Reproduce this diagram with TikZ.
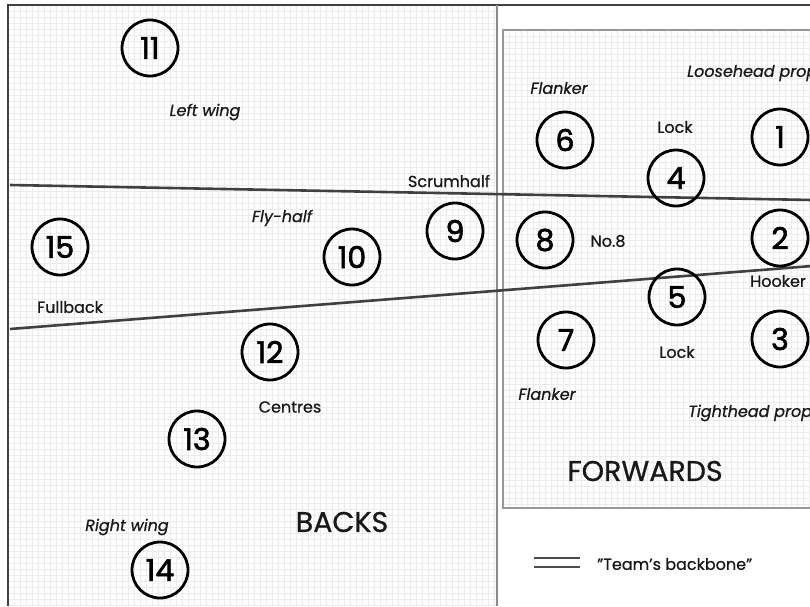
\documentclass[tikz,border=0pt]{standalone}
\usepackage{fontspec}
\setmainfont{Poppins}[FakeBold=0.8]
\newfontfamily\numfont{Poppins}[FakeBold=2]
\begin{document}
\begin{tikzpicture}[x=1pt,y=-1pt,
  player/.style={circle, draw=black, line width=2.8pt, minimum size=56pt, inner sep=0pt, font=\numfont\fontsize{30}{30}\selectfont},
  lbl/.style={font=\fontsize{16}{16}\selectfont, text=black!90, inner sep=0pt},
  ilbl/.style={lbl, font=\fontsize{16}{16}\selectfont\itshape},
  big/.style={font=\fontsize{28.5}{28.5}\selectfont, text=black!90, inner sep=0pt},
  backbone/.style={draw=black!75, line width=2.6pt},
  gridline/.style={draw=black!8, line width=0.35pt},
  frame/.style={draw=black!75, line width=1.6pt}]
\useasboundingbox (0,0) rectangle (810,606);
\begin{scope}
\clip (0,0) rectangle (810,606);
\fill[white] (0,0) rectangle (810,606);
% grid of the backs panel
\foreach \x in {8,14,...,497} \draw[gridline] (\x,5) -- (\x,606);
\foreach \y in {5,11,...,606} \draw[gridline] (8,\y) -- (497,\y);
% forwards box
\foreach \x in {503,509,...,810} \draw[gridline] (\x,30) -- (\x,508);
\foreach \y in {30,36,...,508} \draw[gridline] (503,\y) -- (810,\y);
\draw[draw=black!40, line width=1.8pt] (503,30) rectangle (830,508);
% frame
\draw[frame] (8,606) -- (8,5) -- (810,5);
\draw[draw=black!45, line width=1.6pt] (497,5) -- (497,606);

% backbone
\coordinate (bbA1) at (10,185);
\coordinate (bbA2) at (812,200);
\coordinate (bbB1) at (10,329);
\coordinate (bbB2) at (812,266);
\draw[backbone] (bbA1) -- (bbA2);
\draw[backbone] (bbB1) -- (bbB2);

% backs
\node[player] (p11) at (150,48) {11};
\node[player] (p15) at (60,247) {15};
\node[player] (p10) at (352,257) {10};
\node[player] (p9) at (455,231) {9};
\node[player] (p12) at (270,352) {12};
\node[player] (p13) at (197,439) {13};
\node[player] (p14) at (160,570) {14};
% forwards
\node[player] (p6) at (565,140) {6};
\node[player] (p4) at (676,178) {4};
\node[player] (p1) at (780,137) {1};
\node[player] (p8) at (545,240) {8};
\node[player] (p2) at (780,238) {2};
\node[player] (p5) at (677,297) {5};
\node[player] (p7) at (566,340) {7};
\node[player] (p3) at (780,339) {3};

% labels backs
\node[ilbl] (lLW) at (205,112) {Left wing};
\node[lbl] (lFB) at (70,307) {Fullback};
\node[ilbl] (lFH) at (282,218) {Fly-half};
\node[lbl] (lSH) at (449,181) {Scrumhalf};
\node[lbl] (lCE) at (290,407) {Centres};
\node[ilbl] (lRW) at (127,527) {Right wing};
\node[big] (lBK) at (342,522) {BACKS};
% labels forwards
\node[ilbl] (lFL1) at (559,88) {Flanker};
\node[ilbl] (lFL2) at (547,394) {Flanker};
\node[lbl] (lLK1) at (675,127) {Lock};
\node[lbl] (lLK2) at (677,352) {Lock};
\node[ilbl, anchor=west] (lLH) at (687,73) {Loosehead prop};
\node[lbl] (lN8) at (608,241) {No.8};
\node[lbl, anchor=west] (lHK) at (750,281) {Hooker};
\node[ilbl, anchor=west] (lTH) at (688,413) {Tighthead prop};
\node[big] (lFW) at (645,471) {FORWARDS};

% legend
\coordinate (lgA1) at (534,558);
\coordinate (lgA2) at (580,558);
\coordinate (lgB1) at (534,567);
\coordinate (lgB2) at (580,567);
\draw[draw=black!70, line width=2pt] (lgA1) -- (lgA2);
\draw[draw=black!70, line width=2pt] (lgB1) -- (lgB2);
\node[lbl, anchor=west] (lTB) at (597,564) {"Team's backbone"};
\end{scope}
\end{tikzpicture}
\end{document}
